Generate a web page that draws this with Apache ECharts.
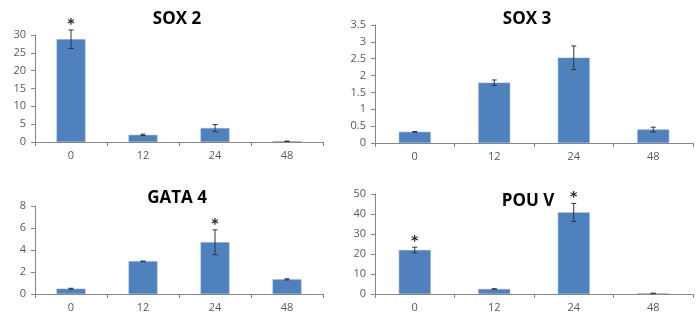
<!DOCTYPE html>
<html><head><meta charset="utf-8">
<script src="https://cdn.jsdelivr.net/npm/echarts@6/dist/echarts.min.js"></script>
<style>html,body{margin:0;padding:0;background:#fff}#c{width:700px;height:315px}</style>
</head><body><div id="c"></div>
<script>
var categories = ['0', '12', '24', '48'];
var titles = ['SOX 2', 'SOX 3', 'GATA 4', 'POU V'];
var sox2 = [28.8, 2.0, 3.9, 0.2];
var sox2Err = [2.6, 0.2, 1.0, 0.05];
var sox2Sig = [1, 0, 0, 0];
var sox3 = [0.33, 1.79, 2.53, 0.40];
var sox3Err = [0.01, 0.08, 0.35, 0.07];
var sox3Sig = [0, 0, 0, 0];
var gata4 = [0.48, 2.97, 4.7, 1.33];
var gata4Err = [0.04, 0.03, 1.13, 0.05];
var gata4Sig = [0, 0, 1, 0];
var pouv = [22.0, 2.5, 40.8, 0.3];
var pouvErr = [1.4, 0.1, 4.5, 0.1];
var pouvSig = [1, 0, 1, 0];
var yMax = [30, 3.5, 8, 50];
var yInterval = [5, 0.5, 2, 10];

var values = [sox2, sox3, gata4, pouv];
var errs = [sox2Err, sox3Err, gata4Err, pouvErr];
var sigs = [sox2Sig, sox3Sig, gata4Sig, pouvSig];

var grids = [
  {left: 35, right: 377, top: 35, bottom: 173},
  {left: 375, right: 7, top: 25, bottom: 172},
  {left: 35, right: 377, top: 206, bottom: 21},
  {left: 375, right: 7, top: 194, bottom: 21}
];
var titlePos = [{left: 172, top: 6}, {left: 522, top: 6}, {left: 172, top: 185}, {left: 523, top: 188}];

var chart = echarts.init(document.getElementById('c'), null, {renderer: 'canvas'});
var option = {
  animation: false,
  backgroundColor: '#fff',
  title: titles.map(function (t, i) {
    return {text: t, left: titlePos[i].left, top: titlePos[i].top, textAlign: 'center',
      textStyle: {fontFamily: 'Open Sans', fontWeight: 'bold', fontSize: 17, color: '#000'}};
  }),
  grid: grids,
  xAxis: grids.map(function (g, i) {
    return {type: 'category', gridIndex: i, data: categories,
      axisLine: {lineStyle: {color: '#868686'}},
      axisTick: {show: true, length: 4, lineStyle: {color: '#868686'}},
      axisLabel: {color: '#595959', fontSize: 11, fontFamily: 'Open Sans', margin: 8}};
  }),
  yAxis: grids.map(function (g, i) {
    return {type: 'value', gridIndex: i, min: 0, max: yMax[i], interval: yInterval[i],
      axisLine: {show: true, lineStyle: {color: '#868686'}},
      axisTick: {show: true, length: 4, lineStyle: {color: '#868686'}},
      splitLine: {show: false},
      axisLabel: {color: '#595959', fontSize: 11, fontFamily: 'Open Sans', margin: 9}};
  }),
  series: []
};
values.forEach(function (vals, i) {
  option.series.push({type: 'bar', xAxisIndex: i, yAxisIndex: i, data: vals, barWidth: '40%',
    itemStyle: {color: '#4F81BD', borderColor: '#7fa3cf', borderWidth: 0.5}});
  var d = vals.map(function (v, j) { return [j, v, errs[i][j], sigs[i][j]]; });
  option.series.push({type: 'custom', xAxisIndex: i, yAxisIndex: i, data: d, z: 5,
    renderItem: function (params, api) {
      var x = api.value(0), y = api.value(1), e = api.value(2), s = api.value(3);
      var hi = api.coord([x, y + e]);
      var lo = api.coord([x, y - e]);
      var st = {stroke: '#333', lineWidth: 1};
      var children = [
        {type: 'line', shape: {x1: hi[0], y1: hi[1], x2: lo[0], y2: lo[1]}, style: st},
        {type: 'line', shape: {x1: hi[0] - 2.5, y1: hi[1], x2: hi[0] + 2.5, y2: hi[1]}, style: st},
        {type: 'line', shape: {x1: lo[0] - 2.5, y1: lo[1], x2: lo[0] + 2.5, y2: lo[1]}, style: st}
      ];
      if (s) {
        children.push({type: 'text', style: {text: '*', x: hi[0], y: hi[1] - 6, align: 'center',
          verticalAlign: 'middle', fill: '#222', font: 'bold 14px "DejaVu Sans"'}});
      }
      return {type: 'group', children: children};
    }});
});
chart.setOption(option);
</script></body></html>
